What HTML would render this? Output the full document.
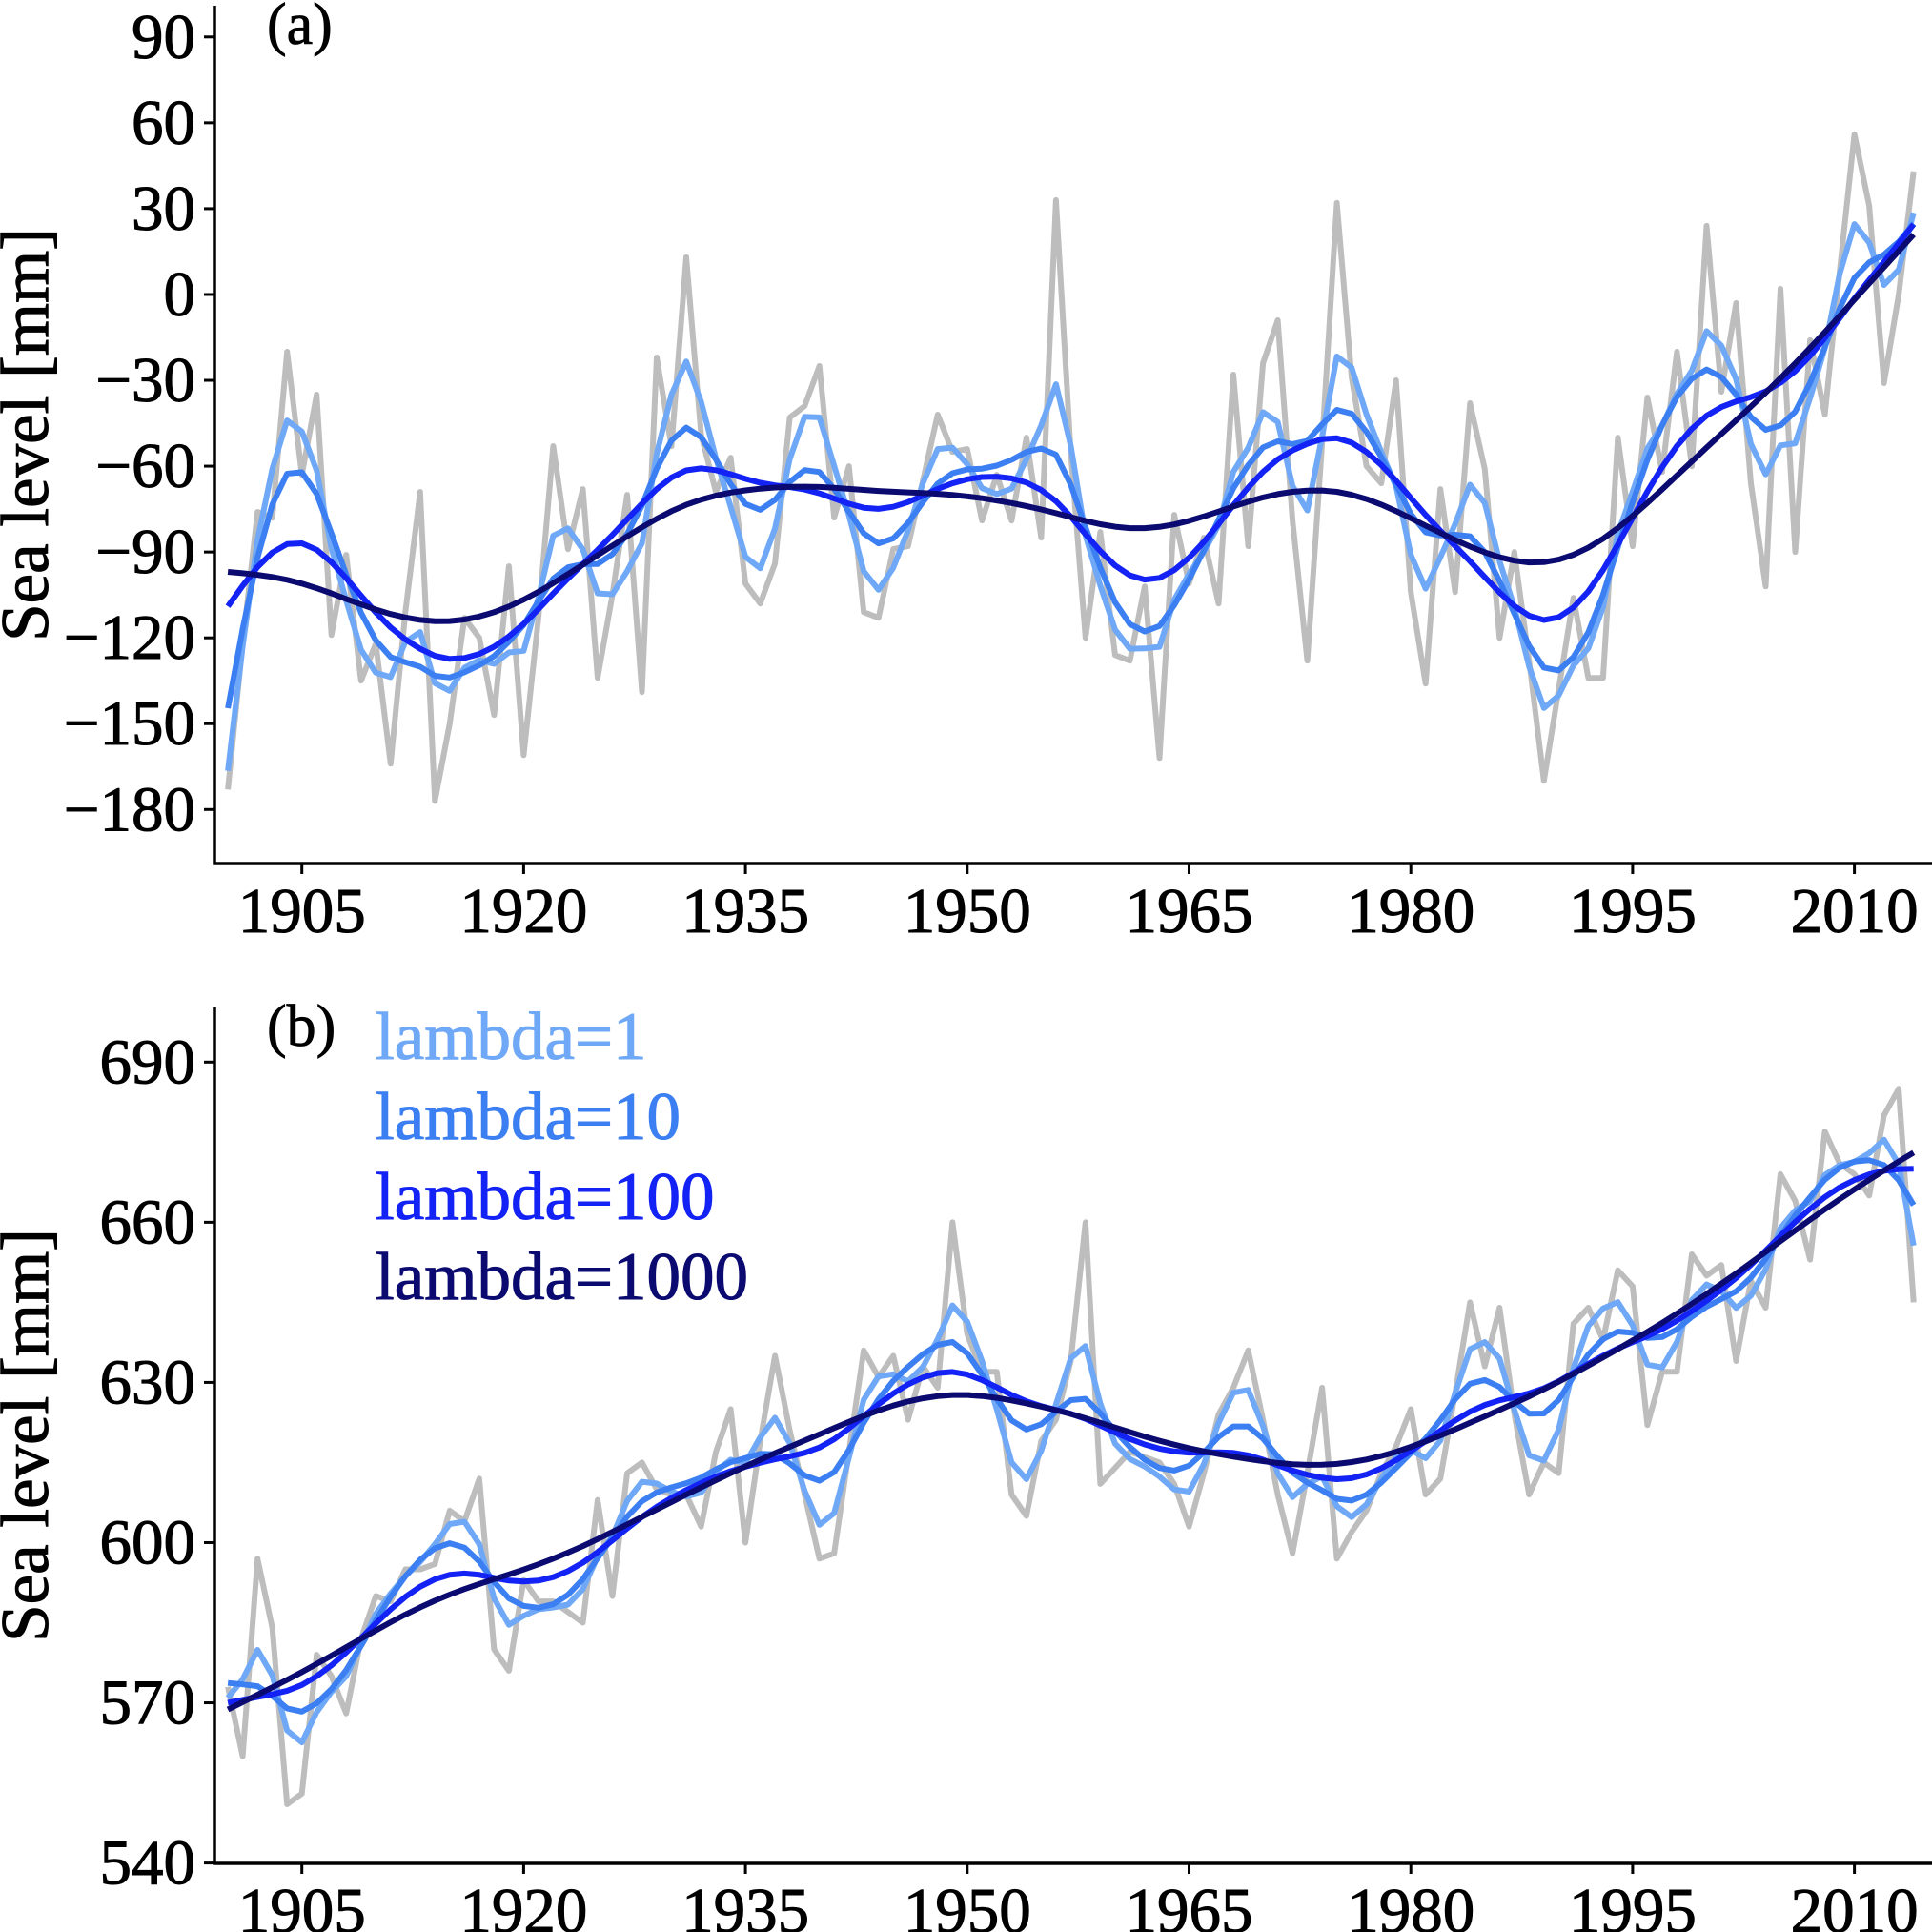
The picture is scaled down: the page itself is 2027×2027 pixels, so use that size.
<!DOCTYPE html>
<html><head><meta charset="utf-8"><style>
html,body{margin:0;padding:0;background:#fff;}
svg{display:block;}
text{font-family:"Liberation Serif","DejaVu Serif",serif;}
</style></head><body>
<svg id="chart" width="2027" height="2027" viewBox="0 0 2027 2027" xmlns="http://www.w3.org/2000/svg"></svg>
<script>
const startYear = 1900;
const xTickLabels = [1905,1920,1935,1950,1965,1980,1995,2010];
const lambdas = [1,10,100,1000];
const seriesColors = ['#6fa8f7','#3b7ff2','#1322f5','#0a0a70'];
const legendLabels = ['lambda=1','lambda=10','lambda=100','lambda=1000'];
const yTicksA = [90,60,30,0,-30,-60,-90,-120,-150,-180];
const yTicksB = [690,660,630,600,570,540];
const rawA = [-173,-122,-76,-78,-20,-63,-35,-119,-91,-135,-122,-164,-111,-69,-177,-150,-113,-120,-147,-95,
-161,-113,-53,-89,-68,-134,-105,-70,-139,-22,-53,13,-49,-69,-57,-101,-108,
-94,-43,-39,-25,-78,-60,-111,-113,-89,-88,-65,-42,-55,-54,-79,-63,-79,-50,-85,33,-55,-120,-83,-126,-128,-102,-162,-77,-101,-85,-108,-28,-88,-24,-9,-79,-128,-52,
32,-29,-60,-66,-30,-104,-136,-68,-104,-38,-61,-120,-90,-128,-170,-138,-106,-134,-134,-50,-88,-36,-62,-20,-60,24,-34,-3,-66,-102,2,-90,-16,-42,8,56,31,-31,0,43];
const rawB = [573,560,597,584,551,553,579,575,568,582,590,589,595,595,596,606,604,612,580,576,
593,589,589,587,585,608,590,613,615,610,609,609,603,617,625,600,619,
635,621,609,597,598,617,636,631,635,623,633,629,660,639,632,632,609,605,619,623,634,660,611,614,617,616,615,611,603,613,624,629,636,623,609,598,613,629,
597,602,606,613,618,625,609,612,628,645,633,644,624,609,615,613,641,644,638,651,648,622,632,632,654,650,652,634,649,644,669,664,653,677,671,669,665,680,685,645];

function whittaker(y, lam){
  const n=y.length;
  const A=[];for(let i=0;i<n;i++){A.push(new Array(n).fill(0));A[i][i]=1;}
  for(let k=0;k<n-2;k++){const d=[1,-2,1];
    for(let a=0;a<3;a++)for(let b=0;b<3;b++)A[k+a][k+b]+=lam*d[a]*d[b];}
  const b=y.slice();
  for(let i=0;i<n;i++){for(let j=i+1;j<Math.min(n,i+3);j++){const f=A[j][i]/A[i][i];
    for(let k=i;k<Math.min(n,i+3);k++)A[j][k]-=f*A[i][k];b[j]-=f*b[i];}}
  const z=new Array(n);
  for(let i=n-1;i>=0;i--){let s=b[i];for(let k=i+1;k<Math.min(n,i+3);k++)s-=A[i][k]*z[k];z[i]=s/A[i][i];}
  return z;
}
const NS='http://www.w3.org/2000/svg';
const svg=document.getElementById('chart');
function mk(tag,attrs,parent){const e=document.createElementNS(NS,tag);for(const k in attrs)e.setAttribute(k,attrs[k]);(parent||svg).appendChild(e);return e;}
const xLeft=225,xRight=2010;
function xs(yr){return 316.7+(yr-1905)*(1945.6-316.7)/105;}

function panel(id,raw,yTicks,y0v,y0p,y1v,y1p,top,bottom,label,legend){
  const g=mk('g',{});
  
  
  const ys=v=>y0p+(v-y0v)*(y1p-y0p)/(y1v-y0v);
  const pts=arr=>arr.map((v,i)=>xs(startYear+i).toFixed(1)+','+ys(v).toFixed(1)).join(' ');
  const clipId='clip'+id;
  const cp=mk('clipPath',{id:clipId},g);mk('rect',{x:xLeft,y:top,width:xRight-xLeft+20,height:bottom-top},cp);
  const gray=mk('polyline',{points:pts(raw),fill:'none',stroke:'#bdbdbd','stroke-width':6,'stroke-linejoin':'round','clip-path':'url(#'+clipId+')'},g);
  
  
  lambdas.forEach((lam,k)=>{
    const z=whittaker(raw,lam);
    const l=mk('polyline',{points:pts(z),fill:'none',stroke:seriesColors[k],'stroke-width':6,'stroke-linejoin':'round','clip-path':'url(#'+clipId+')'},g);
    
    
  });
  const ax=mk('path',{d:`M${xLeft},${top} V${bottom} H${xRight+17}`,fill:'none',stroke:'#000','stroke-width':3.5},g);
  
  
  yTicks.forEach(v=>{
    const y=ys(v);
    mk('line',{x1:xLeft-11,x2:xLeft,y1:y,y2:y,stroke:'#000','stroke-width':3},g);
    const t=mk('text',{x:xLeft-20,y:y+22,'font-size':67,'text-anchor':'end',stroke:'#000','stroke-width':1},g);
    t.textContent=(v<0?'\u2212':'')+Math.abs(v);
    
    
  });
  xTickLabels.forEach(yr=>{
    const x=xs(yr);
    mk('line',{x1:x,x2:x,y1:bottom,y2:bottom+11,stroke:'#000','stroke-width':3},g);
    const t=mk('text',{x:x,y:bottom+72,'font-size':67,'text-anchor':'middle',stroke:'#000','stroke-width':1},g);
    t.textContent=yr;
    
    
  });
  const yl=mk('text',{x:0,y:0,'font-size':71,'text-anchor':'middle',stroke:'#000','stroke-width':1,transform:`translate(50,${(top+bottom)/2}) rotate(-90)`},g);
  yl.textContent='Sea level [mm]';
  
  
  const pl=mk('text',{x:280,y:top+40,'font-size':62,stroke:'#000','stroke-width':0.8},g);
  pl.textContent=label;
  
  
  if(legend){
    legendLabels.forEach((s,k)=>{
      const t=mk('text',{x:394,y:top+54+k*84,'font-size':71,fill:seriesColors[k],stroke:seriesColors[k],'stroke-width':1},g);
      t.textContent=s;
      
      
    });
  }
}
panel('a',rawA,yTicksA,90,38.8,-180,849.3,6,906,'(a)',false);
panel('b',rawB,yTicksB,690,1114.3,540,1954.6,1057,1955,'(b)',true);
</script>
</body></html>
